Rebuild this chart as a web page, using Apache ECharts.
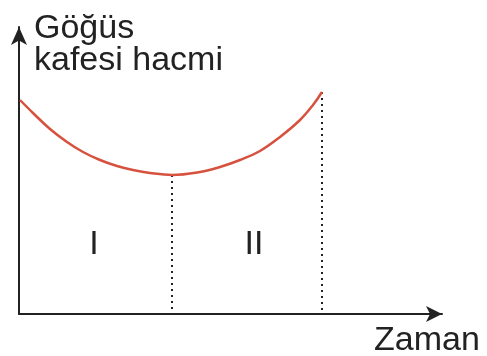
<!DOCTYPE html>
<html>
<head>
<meta charset="utf-8">
<script src="https://cdn.jsdelivr.net/npm/echarts@6/dist/echarts.min.js"></script>
<style>
html, body { margin: 0; padding: 0; background: #fff; }
#chart { width: 487px; height: 356px; }
</style>
</head>
<body>
<div id="chart"></div>
<script>
// curve: [time, volume]
var curveX = [1, 14, 31, 48, 64, 81, 98, 114, 131, 153, 181, 201, 221, 241, 261, 281, 294, 303];
var curveY = [214, 201, 185, 172, 162, 154, 148, 144, 141, 139, 142, 147, 154, 163, 177, 194, 209, 222];
var dropX = [153, 303];
var dropY = [139, 222];
var phaseLabels = ["I", "II"];
var yTitle = "Göğüs\nkafesi hacmi";
var xTitle = "Zaman";

var curve = curveX.map(function (x, i) { return [x, curveY[i]]; });

var dropSeries = dropX.map(function (x, i) {
    return {
        type: "line",
        symbol: "none",
        silent: true,
        lineStyle: { color: "#222", width: 2, type: [2, 4] },
        data: [[x, dropY[i]], [x, 0]]
    };
});

var chart = echarts.init(document.getElementById("chart"));
var font = "34px 'Liberation Sans', Arial, sans-serif";

chart.setOption({
    animation: false,
    grid: { left: 19, right: 45, top: 27, bottom: 42 },
    xAxis: {
        type: "value", min: 0, max: 423,
        axisLine: { show: true, symbol: ["none", "arrow"], symbolSize: [12, 16], lineStyle: { color: "#222", width: 2 } },
        axisTick: { show: false }, axisLabel: { show: false }, splitLine: { show: false }
    },
    yAxis: {
        type: "value", min: 0, max: 287,
        axisLine: { show: true, symbol: ["none", "arrow"], symbolSize: [12, 18], lineStyle: { color: "#222", width: 2 } },
        axisTick: { show: false }, axisLabel: { show: false }, splitLine: { show: false }
    },
    series: dropSeries.concat([{
        type: "line",
        symbol: "none",
        smooth: 0.4,
        lineStyle: { color: "#d6523e", width: 2.5 },
        data: curve
    }]),
    graphic: [
        { type: "text", left: 34, top: 12, style: { text: yTitle, font: font, fill: "#222", lineHeight: 32 } },
        { type: "text", left: 374, top: 324, style: { text: xTitle, font: font, fill: "#222" } },
        { type: "text", x: 94, y: 245, style: { text: phaseLabels[0], font: "34px 'Liberation Sans', Arial, sans-serif", fill: "#222", align: "center", verticalAlign: "middle" } },
        { type: "text", x: 254, y: 245, style: { text: phaseLabels[1], font: "34px 'Liberation Sans', Arial, sans-serif", fill: "#222", align: "center", verticalAlign: "middle" } }
    ]
});
</script>
</body>
</html>
